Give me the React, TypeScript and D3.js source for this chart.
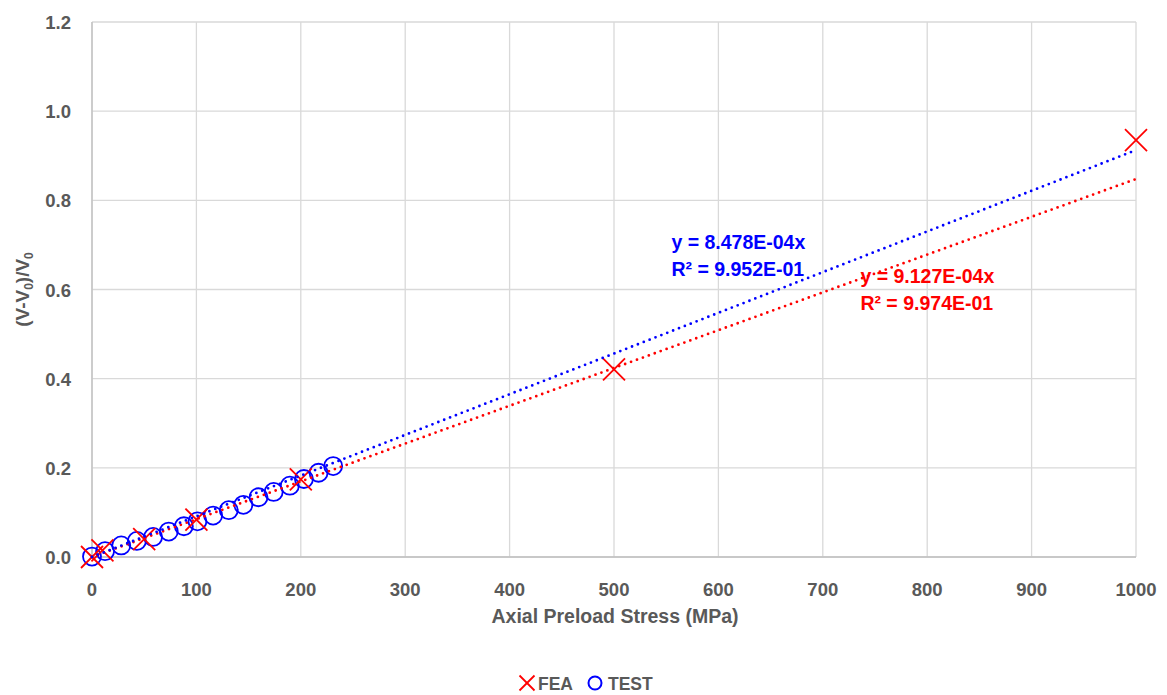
import React from "react";
import * as d3 from "d3";

// Axial preload stress (MPa) vs. relative change (V-V0)/V0
const feaStress = [0, 10, 50, 100, 200, 500, 1000];
const feaRatio = [0, 0.015, 0.04, 0.084, 0.174, 0.421, 0.935];

const testStress = [0, 12.5, 28, 43, 58.5, 73.5, 88, 101, 116, 131, 145, 159.5, 174, 189.5, 203, 217, 231];
const testRatio = [0.001, 0.013, 0.026, 0.036, 0.045, 0.057, 0.069, 0.08, 0.093, 0.105, 0.117, 0.134, 0.146, 0.16, 0.175, 0.189, 0.204];

// Linear trendlines through the origin: slope and R²
const fitSlopes = [8.478e-4, 9.127e-4];
const fitR2 = [9.952e-1, 9.974e-1];
const fitLineColors = ["#ff0000", "#0000ff"];
const fitLabelColors = ["#0000ff", "#ff0000"];
const fitLabelAnchor = [
  [555, 0.69],
  [736, 0.615],
];

const xTicks = [0, 100, 200, 300, 400, 500, 600, 700, 800, 900, 1000];
const yTicks = [0, 0.2, 0.4, 0.6, 0.8, 1.0, 1.2];

const W = 1167;
const H = 695;
const left = 92;
const right = 1136;
const top = 22;
const bottom = 557;

const FONT = "'Liberation Sans', Arial, sans-serif";
const GREY = "#595959";

const fmtExp = (v: number) => {
  const e = Math.floor(Math.log10(Math.abs(v)));
  const m = v / Math.pow(10, e);
  const sign = e < 0 ? "-" : "+";
  return `${m.toFixed(3)}E${sign}${String(Math.abs(e)).padStart(2, "0")}`;
};

export default function App() {
  const x = d3.scaleLinear().domain([0, 1000]).range([left, right]);
  const y = d3.scaleLinear().domain([0, 1.2]).range([bottom, top]);

  const fea = feaStress.map((s, i) => [s, feaRatio[i]] as [number, number]);
  const test = testStress.map((s, i) => [s, testRatio[i]] as [number, number]);

  const line = d3
    .line<[number, number]>()
    .x((d) => x(d[0]))
    .y((d) => y(d[1]));

  const cross = (cx: number, cy: number, r: number, key: string, w = 1.8) => (
    <g key={key} stroke="#ff0000" strokeWidth={w}>
      <line x1={cx - r} y1={cy - r} x2={cx + r} y2={cy + r} />
      <line x1={cx - r} y1={cy + r} x2={cx + r} y2={cy - r} />
    </g>
  );

  return (
    <svg
      width={W}
      height={H}
      style={{ position: "absolute", left: 0, top: 0, background: "#fff" }}
      fontFamily={FONT}
    >
      {/* grid */}
      {xTicks.map((t) => (
        <line key={`gx${t}`} x1={x(t)} x2={x(t)} y1={top} y2={bottom} stroke="#d9d9d9" strokeWidth={1.3} />
      ))}
      {yTicks.map((t) => (
        <line key={`gy${t}`} x1={left} x2={right} y1={y(t)} y2={y(t)} stroke="#d9d9d9" strokeWidth={1.3} />
      ))}
      {/* axes */}
      <line x1={left} x2={left} y1={top} y2={bottom} stroke="#bfbfbf" strokeWidth={1.3} />
      <line x1={left} x2={right} y1={bottom} y2={bottom} stroke="#bfbfbf" strokeWidth={1.3} />

      {/* tick labels */}
      {xTicks.map((t) => (
        <text key={`tx${t}`} x={x(t)} y={596} textAnchor="middle" fontSize={18.5} fontWeight="bold" fill={GREY}>
          {t}
        </text>
      ))}
      {yTicks.map((t) => (
        <text key={`ty${t}`} x={71} y={y(t) + 7} textAnchor="end" fontSize={18.5} fontWeight="bold" fill={GREY}>
          {t.toFixed(1)}
        </text>
      ))}

      {/* axis titles */}
      <text x={(left + right) / 2 + 1} y={623} textAnchor="middle" fontSize={19.5} fontWeight="bold" fill={GREY}>
        Axial Preload Stress (MPa)
      </text>
      <text
        transform={`translate(29, ${(top + bottom) / 2}) rotate(-90)`}
        textAnchor="middle"
        fontSize={19}
        fontWeight="bold"
        fill={GREY}
      >
        (V-V
        <tspan fontSize={12} dy={4}>0</tspan>
        <tspan dy={-4}>)/V</tspan>
        <tspan fontSize={12} dy={4}>0</tspan>
      </text>

      {/* TEST markers */}
      {test.map((d, i) => (
        <circle key={`c${i}`} cx={x(d[0])} cy={y(d[1])} r={9} fill="none" stroke="#0000ff" strokeWidth={1.8} />
      ))}
      {/* FEA markers */}
      {fea.map((d, i) => cross(x(d[0]), y(d[1]), 11, `f${i}`))}

      {/* trendlines */}
      {fitSlopes.map((k, i) => (
        <path
          key={`fit${i}`}
          d={line([
            [0, 0],
            [1000, k * 1000],
          ]) as string}
          fill="none"
          stroke={fitLineColors[i]}
          strokeWidth={2.8}
          strokeDasharray="0 6.3"
          strokeLinecap="round"
        />
      ))}

      {/* trendline labels */}
      {fitSlopes.map((k, i) => {
        const [ax, ay] = fitLabelAnchor[i];
        return (
          <text
            key={`lab${i}`}
            x={x(ax)}
            y={y(ay)}
            fontSize={19.5}
            fontWeight="bold"
            fill={fitLabelColors[i]}
          >
            <tspan x={x(ax)}>{`y = ${fmtExp(k)}x`}</tspan>
            <tspan x={x(ax)} dy={27}>
              {"R² = " + fmtExp(fitR2[i])}
            </tspan>
          </text>
        );
      })}

      {/* legend */}
      {cross(527, 683, 7.5, "legx", 1.8)}
      <text x={538} y={690} fontSize={17.5} fontWeight="bold" fill={GREY}>
        FEA
      </text>
      <circle cx={595} cy={683} r={6.5} fill="none" stroke="#0000ff" strokeWidth={2} />
      <text x={608} y={690} fontSize={17.5} fontWeight="bold" fill={GREY}>
        TEST
      </text>
    </svg>
  );
}
